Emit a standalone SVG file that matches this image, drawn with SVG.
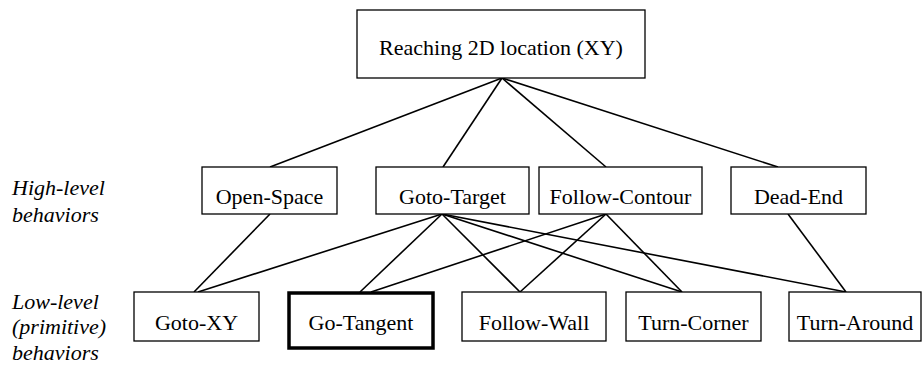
<svg xmlns="http://www.w3.org/2000/svg" width="922" height="367" viewBox="0 0 922 367">
<style>
.box{fill:#fff;stroke:#000;stroke-width:1.3}
.thick{fill:#fff;stroke:#000;stroke-width:3.5}
.t{font-family:'Liberation Serif','Times New Roman',Times,'DejaVu Serif',serif;font-size:22px;fill:#000;text-anchor:middle}
.lab{font-family:'Liberation Serif','Times New Roman',Times,'DejaVu Serif',serif;font-size:22px;font-style:italic;fill:#000}
.c line{stroke:#000;stroke-width:1.6}
</style>
<rect width="922" height="367" fill="#fff"/>
<g class="c" id="connectors">
<line x1="502" y1="78" x2="270" y2="167"/>
<line x1="502" y1="78" x2="443" y2="167"/>
<line x1="502" y1="78" x2="606" y2="167"/>
<line x1="502" y1="78" x2="778" y2="167"/>
<line x1="270" y1="214" x2="194" y2="292"/>
<line x1="442" y1="214" x2="198" y2="292"/>
<line x1="442" y1="214" x2="360" y2="292"/>
<line x1="442" y1="214" x2="520" y2="292"/>
<line x1="442" y1="214" x2="682" y2="292"/>
<line x1="442" y1="214" x2="846" y2="292"/>
<line x1="606" y1="214" x2="371" y2="292"/>
<line x1="606" y1="214" x2="520" y2="292"/>
<line x1="606" y1="214" x2="682" y2="292"/>
<line x1="788" y1="214" x2="846" y2="292"/>
</g>
<g id="root"><rect class="box" x="357" y="10" width="288" height="68"/><text class="t" x="501" y="55">Reaching 2D location (XY)</text></g>
<g id="open-space"><rect class="box" x="202" y="167" width="135" height="47"/><text class="t" x="269.5" y="204">Open-Space</text></g>
<g id="goto-target"><rect class="box" x="376" y="167" width="153" height="47"/><text class="t" x="452.5" y="204">Goto-Target</text></g>
<g id="follow-contour"><rect class="box" x="539" y="167" width="163" height="47"/><text class="t" x="620.5" y="204">Follow-Contour</text></g>
<g id="dead-end"><rect class="box" x="731" y="167" width="135" height="47"/><text class="t" x="798.5" y="204">Dead-End</text></g>
<g id="goto-xy"><rect class="box" x="134" y="292" width="125" height="49"/><text class="t" x="196.5" y="330">Goto-XY</text></g>
<g id="go-tangent"><rect class="thick" x="289" y="293" width="144" height="55"/><text class="t" x="361" y="330">Go-Tangent</text></g>
<g id="follow-wall"><rect class="box" x="462" y="292" width="144" height="49"/><text class="t" x="534" y="330">Follow-Wall</text></g>
<g id="turn-corner"><rect class="box" x="626" y="292" width="135" height="49"/><text class="t" x="693.5" y="330">Turn-Corner</text></g>
<g id="turn-around"><rect class="box" x="789" y="292" width="132" height="49"/><text class="t" x="855" y="330">Turn-Around</text></g>
<g id="labels">
<text class="lab" x="12" y="195">High-level</text>
<text class="lab" x="12" y="222">behaviors</text>
<text class="lab" x="12" y="309">Low-level</text>
<text class="lab" x="12" y="334">(primitive)</text>
<text class="lab" x="12" y="360">behaviors</text>
</g>
</svg>
